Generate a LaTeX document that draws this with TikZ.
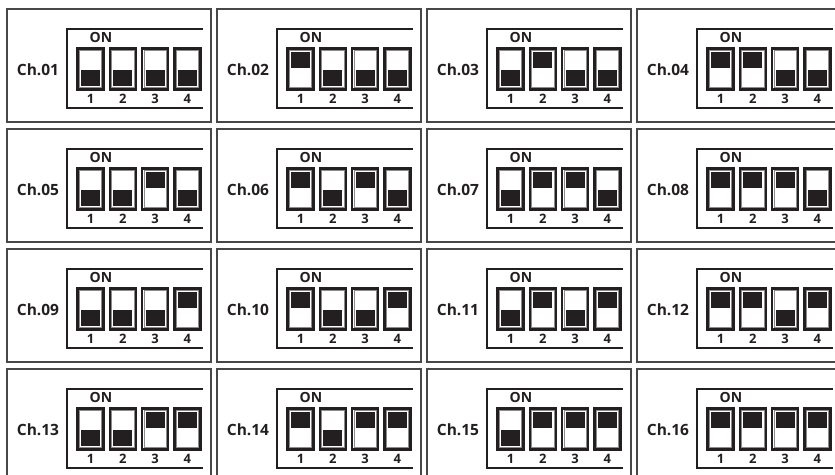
\documentclass[tikz,border=0pt]{standalone}
\usepackage{fontspec}
\setmainfont{Open Sans}
\definecolor{ink}{HTML}{231F20}
\begin{document}
\begin{tikzpicture}[x=1pt,y=-1pt,
  cellbox/.style={draw=black!72, line width=1.1pt},
  dipframe/.style={draw=ink, line width=2.2pt},
  swbox/.style={draw=ink, line width=2.4pt},
  swinner/.style={draw=black!45, line width=0.5pt},
  knob/.style={fill=ink},
  chlabel/.style={font=\fontsize{15.5}{17}\selectfont\bfseries, text=ink, inner sep=0pt},
  onlabel/.style={font=\fontsize{14}{15}\selectfont\bfseries, text=ink, inner sep=0pt},
  numlabel/.style={font=\fontsize{13}{14}\selectfont\bfseries, text=ink, inner sep=0pt}
]
\useasboundingbox (0,0) rectangle (835,474);
\fill[white] (0,0) rectangle (835,474);
\clip (0,0) rectangle (835,474);
\foreach \r in {0,...,3}{
  \foreach \c in {0,...,3}{
    \pgfmathtruncatemacro\n{4*\r+\c+1}
    \pgfmathtruncatemacro\v{\n-1}
    \begin{scope}[shift={(7+210*\c,9+120*\r)}]
      \draw[cellbox] (0,0) rectangle (204,113);
      \draw[dipframe] (196,20) -- (60,20) -- (60,99) -- (196,99);
      \node[chlabel] (ch\n) at (31,61) {Ch.\ifnum\n<10 0\fi\n};
      \node[onlabel] (on\n) at (94,28.5) {ON};
      \foreach \k in {0,...,3}{
        \pgfmathsetmacro\xl{70.5+32.3*\k}
        \pgfmathtruncatemacro\b{mod(int(\v/(2^\k)),2)}
        \pgfmathtruncatemacro\d{\k+1}
        \draw[swbox] (\xl,39.5) rectangle ++(26,41);
        \draw[swinner] (\xl+1.9,41.4) rectangle ++(22.2,37.2);
        \ifnum\b=1
          \fill[knob] (\xl+3.6,42.8) rectangle ++(18.8,16.4);
        \else
          \fill[knob] (\xl+3.6,61) rectangle ++(18.8,16.2);
        \fi
        \node[numlabel] (num\n-\d) at (\xl+13,89.5) {\d};
      }
    \end{scope}
  }
}
\end{tikzpicture}
\end{document}
